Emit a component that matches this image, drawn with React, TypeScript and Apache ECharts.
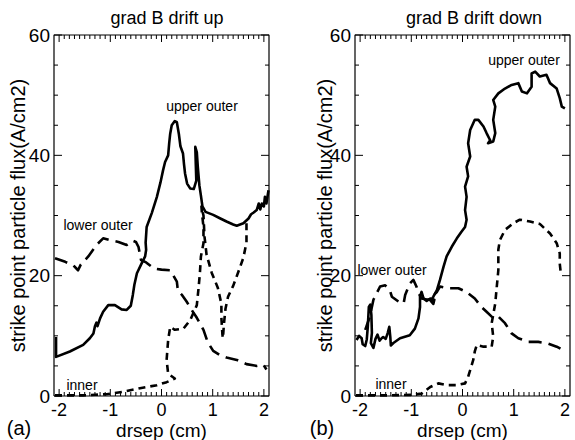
import React, { useEffect, useRef } from "react";
import * as echarts from "echarts";

const FONT = "'Liberation Sans', Arial, Helvetica, sans-serif";

const TITLES = ["grad B drift up", "grad B drift down"];
const PANEL_TAGS = ["(a)", "(b)"];
const X_NAME = "drsep (cm)";
const Y_NAME = "strike point particle flux(A/cm2)";
const X_TICKS = [-2, -1, 0, 1, 2];
const Y_TICKS = [0, 20, 40, 60];
const SERIES_NAMES = ["upper outer", "lower outer", "inner"];

// grad B drift up
const UP_UPPER = [
  [-2.06, 9.8], [-2.06, 6.5], [-1.79, 7.4], [-1.53, 8.5], [-1.4, 9.6], [-1.33, 10.4], [-1.3, 11.6],
  [-1.27, 12.2], [-1.25, 11.6], [-1.2, 12.9], [-1.14, 14.0], [-1.04, 15.1], [-0.91, 15.1], [-0.78, 14.4],
  [-0.68, 14.3], [-0.6, 15.0], [-0.56, 16.8], [-0.53, 18.5], [-0.48, 20.4], [-0.39, 22.0], [-0.32, 23.2],
  [-0.3, 24.3], [-0.31, 25.5], [-0.29, 28.1], [-0.19, 30.4], [-0.09, 33.1], [-0.02, 35.5], [0.03, 37.5],
  [0.07, 38.9], [0.13, 40.0], [0.15, 42.0], [0.17, 43.6], [0.2, 45.0], [0.26, 45.7], [0.3, 45.5],
  [0.34, 43.5], [0.37, 41.5], [0.42, 40.3], [0.44, 38.5], [0.46, 37.0], [0.5, 35.3], [0.56, 34.5],
  [0.63, 34.4], [0.68, 35.8], [0.67, 38.5], [0.66, 41.4], [0.69, 40.5], [0.71, 38.0], [0.74, 35.0],
  [0.77, 33.3], [0.8, 31.5], [0.86, 30.6], [1.01, 30.1], [1.15, 29.5], [1.27, 29.0], [1.4, 28.5],
  [1.47, 28.3], [1.6, 28.7], [1.7, 29.5], [1.75, 30.2], [1.8, 30.5], [1.86, 30.9], [1.9, 32.0],
  [1.93, 31.0], [1.96, 32.0], [2.0, 31.5], [2.02, 33.1], [2.05, 32.0], [2.09, 34.2],
];
const UP_LOWER = [
  [-2.08, 22.9], [-1.88, 22.3], [-1.72, 21.7], [-1.63, 20.9], [-1.58, 21.8], [-1.43, 23.2], [-1.27, 25.1],
  [-1.14, 26.2], [-1.01, 25.9], [-0.84, 25.6], [-0.68, 25.1], [-0.56, 25.8], [-0.5, 25.6], [-0.45, 24.8],
  [-0.4, 22.6], [-0.3, 22.2], [-0.15, 21.2], [0.0, 21.0], [0.17, 20.9], [0.3, 19.0], [0.32, 17.5],
  [0.4, 16.8], [0.49, 15.7], [0.59, 14.3], [0.69, 13.0], [0.82, 11.0], [0.9, 9.0], [1.01, 7.5],
  [1.14, 6.8], [1.27, 6.4], [1.47, 6.0], [1.66, 5.3], [1.86, 5.0], [1.99, 5.2], [2.05, 4.4],
];
const UP_INNER = [
  [-2.08, 0.1], [-1.8, 0.1], [-1.53, 0.1], [-1.3, 0.2], [-1.07, 0.3], [-0.75, 0.7], [-0.42, 1.3],
  [-0.09, 1.8], [0.1, 2.3], [0.26, 2.9], [0.13, 3.7], [0.1, 6.0], [0.13, 9.3], [0.17, 11.5], [0.26, 11.0],
  [0.43, 11.2], [0.56, 12.6], [0.69, 15.1], [0.72, 17.6], [0.75, 20.4], [0.77, 23.2], [0.82, 25.4],
  [0.82, 28.1], [0.79, 30.4], [0.78, 31.5], [0.82, 30.0], [0.84, 26.5], [0.88, 23.5], [0.98, 20.5],
  [1.1, 18.0], [1.17, 15.3], [1.17, 13.0], [1.19, 10.2], [1.2, 9.6], [1.22, 12.0], [1.25, 14.5],
  [1.3, 16.5], [1.4, 18.3], [1.5, 20.6], [1.6, 23.0], [1.66, 25.5], [1.66, 28.1], [1.66, 29.3],
];

// grad B drift down
const DOWN_UPPER = [
  [-2.07, 9.3], [-2.02, 10.0], [-1.97, 9.6], [-1.95, 8.6], [-1.9, 8.3], [-1.87, 9.4], [-1.85, 11.5],
  [-1.83, 14.8], [-1.8, 15.2], [-1.78, 13.5], [-1.77, 10.5], [-1.79, 8.8], [-1.74, 8.0], [-1.7, 9.5],
  [-1.66, 10.2], [-1.62, 9.2], [-1.58, 9.6], [-1.55, 9.8], [-1.5, 9.5], [-1.46, 10.5], [-1.43, 11.5],
  [-1.41, 9.8], [-1.4, 8.4], [-1.35, 8.8], [-1.22, 9.6], [-1.03, 10.1], [-0.93, 11.2], [-0.86, 12.9],
  [-0.83, 14.8], [-0.83, 16.5], [-0.8, 17.3], [-0.76, 16.2], [-0.7, 15.8], [-0.63, 16.2], [-0.55, 16.0],
  [-0.57, 15.3], [-0.62, 15.8], [-0.57, 16.5], [-0.5, 17.6], [-0.44, 19.3], [-0.37, 21.5], [-0.31, 23.2],
  [-0.21, 24.8], [-0.11, 26.2], [-0.02, 27.3], [0.05, 28.1], [0.08, 29.3], [0.05, 30.9], [0.08, 33.1],
  [0.05, 34.8], [0.11, 36.5], [0.08, 38.1], [0.15, 39.8], [0.11, 42.0], [0.15, 44.2], [0.24, 45.9],
  [0.31, 45.9], [0.41, 44.8], [0.47, 43.7], [0.54, 42.5], [0.5, 42.0], [0.6, 42.3], [0.64, 43.7],
  [0.6, 45.9], [0.64, 48.1], [0.6, 49.2], [0.7, 50.3], [0.83, 51.1], [0.96, 51.7], [1.09, 52.0],
  [1.16, 50.6], [1.26, 50.3], [1.35, 51.4], [1.35, 53.6], [1.42, 53.9], [1.51, 53.1], [1.64, 53.4],
  [1.71, 52.0], [1.84, 51.1], [1.9, 49.5], [1.94, 48.1], [2.0, 47.8],
];
const DOWN_LOWER = [
  [-1.9, 11.0], [-1.81, 13.2], [-1.74, 16.0], [-1.61, 18.2], [-1.51, 18.4], [-1.42, 17.6], [-1.38, 16.5],
  [-1.25, 15.7], [-1.15, 15.4], [-1.12, 16.8], [-1.03, 18.7], [-0.96, 19.3], [-0.9, 18.2], [-0.86, 17.1],
  [-0.8, 16.2], [-0.67, 16.0], [-0.5, 17.3], [-0.44, 18.2], [-0.28, 17.9], [-0.08, 17.9], [0.08, 17.3],
  [0.24, 16.2], [0.37, 14.8], [0.47, 14.0], [0.57, 13.2], [0.7, 13.2], [0.83, 12.1], [0.96, 10.4],
  [1.09, 9.6], [1.29, 9.0], [1.48, 9.0], [1.68, 8.7], [1.84, 8.2], [1.97, 7.6],
];
const DOWN_INNER = [
  [-2.08, 0.1], [-1.5, 0.1], [-0.96, 0.2], [-0.8, 0.4], [-0.63, 1.5], [-0.47, 2.1], [-0.31, 1.8],
  [-0.11, 1.8], [0.05, 2.1], [0.11, 3.2], [0.15, 4.3], [0.21, 6.0], [0.24, 7.4], [0.28, 8.5], [0.41, 8.2],
  [0.57, 8.2], [0.6, 9.9], [0.57, 12.1], [0.6, 13.5], [0.64, 15.4], [0.67, 18.2], [0.7, 20.9],
  [0.7, 24.3], [0.73, 25.9], [0.83, 27.6], [0.99, 28.7], [1.12, 29.3], [1.32, 29.0], [1.51, 28.6],
  [1.71, 27.0], [1.84, 25.4], [1.9, 23.7], [1.9, 22.0], [1.92, 20.4],
];

const PANELS = [
  [UP_UPPER, UP_LOWER, UP_INNER],
  [DOWN_UPPER, DOWN_LOWER, DOWN_INNER],
];

const X_MIN = -2.1;
const X_MAX = 2.1;
const Y_MIN = Y_TICKS[0];
const Y_MAX = Y_TICKS[Y_TICKS.length - 1];

// tick marks: [value, tick length in px]
const X_TICK_MARKS: number[][] = [];
for (let i = -20; i <= 20; i++) X_TICK_MARKS.push([i / 10, 0, i % 10 === 0 ? 7 : 4]);
const Y_TICK_MARKS: number[][] = [];
for (let v = Y_MIN; v <= Y_MAX; v += 5) Y_TICK_MARKS.push([0, v, v % 20 === 0 ? 8 : 4]);
const FRAME = [[X_MIN, Y_MIN], [X_MAX, Y_MIN], [X_MAX, Y_MAX], [X_MIN, Y_MAX], [X_MIN, Y_MIN]];

const GRIDS = [
  { left: 54, top: 35, width: 215, height: 361 },
  { left: 355, top: 35, width: 215, height: 361 },
];
const Y_NAME_GAP = [26, 20];
const TITLE_X = [167, 474];
const LINE_TYPES: any[] = ["solid", [13, 7], [7, 5]];

const ANNOT = [
  { text: "upper outer", x: 202, y: 106 },
  { text: "lower outer", x: 98, y: 225 },
  { text: "inner", x: 82, y: 385 },
  { text: "upper outer", x: 524, y: 60 },
  { text: "lower outer", x: 392, y: 270 },
  { text: "inner", x: 391, y: 384 },
];

export default function App() {
  const ref = useRef<HTMLDivElement>(null);
  useEffect(() => {
    document.body.style.margin = "0";
    if (!ref.current) return;
    const chart = echarts.init(ref.current, null, { renderer: "svg" });
    const black = "#000000";
    const xAxes: any[] = [];
    const yAxes: any[] = [];
    const series: any[] = [];
    GRIDS.forEach((_, g) => {
      xAxes.push({
        gridIndex: g,
        type: "value",
        min: X_MIN,
        max: X_MAX,
        position: "bottom",
        splitLine: { show: false },
        axisLine: { show: false, onZero: false },
        axisTick: { show: false },
        axisLabel: {
          show: true,
          customValues: X_TICKS,
          color: black,
          fontSize: 18,
          fontFamily: FONT,
          margin: 5,
          formatter: (v: number) => String(v),
        },
        name: X_NAME,
        nameLocation: "middle",
        nameGap: 25,
        nameMoveOverlap: false,
        nameTextStyle: { color: black, fontSize: 19, fontFamily: FONT },
      });
      yAxes.push({
        gridIndex: g,
        type: "value",
        min: Y_MIN,
        max: Y_MAX,
        interval: 20,
        position: "left",
        splitLine: { show: false },
        axisLine: { show: false, onZero: false },
        axisTick: { show: false },
        axisLabel: { show: true, color: black, fontSize: 19, fontFamily: FONT, margin: 4 },
        name: Y_NAME,
        nameLocation: "middle",
        nameRotate: 90,
        nameGap: Y_NAME_GAP[g],
        nameMoveOverlap: false,
        nameTextStyle: { color: black, fontSize: 20, fontFamily: FONT },
      });
      // frame
      series.push({
        type: "line",
        xAxisIndex: g,
        yAxisIndex: g,
        data: FRAME,
        showSymbol: false,
        symbol: "none",
        clip: false,
        silent: true,
        lineStyle: { color: black, width: 1.2 },
        z: 5,
      });
      // x ticks (bottom and top, inward)
      series.push({
        type: "custom",
        xAxisIndex: g,
        yAxisIndex: g,
        data: X_TICK_MARKS,
        encode: { x: 0, y: 1 },
        clip: false,
        silent: true,
        z: 5,
        renderItem: (params: any, api: any) => {
          const v = api.value(0);
          const len = api.value(2);
          const b = api.coord([v, Y_MIN]);
          const t = api.coord([v, Y_MAX]);
          return {
            type: "group",
            children: [
              { type: "line", shape: { x1: b[0], y1: b[1], x2: b[0], y2: b[1] - len }, style: { stroke: black, lineWidth: 1 } },
              { type: "line", shape: { x1: t[0], y1: t[1], x2: t[0], y2: t[1] + len }, style: { stroke: black, lineWidth: 1 } },
            ],
          };
        },
      });
      // y ticks (left and right, inward)
      series.push({
        type: "custom",
        xAxisIndex: g,
        yAxisIndex: g,
        data: Y_TICK_MARKS,
        encode: { x: 0, y: 1 },
        clip: false,
        silent: true,
        z: 5,
        renderItem: (params: any, api: any) => {
          const v = api.value(1);
          const len = api.value(2);
          const l = api.coord([X_MIN, v]);
          const r = api.coord([X_MAX, v]);
          return {
            type: "group",
            children: [
              { type: "line", shape: { x1: l[0], y1: l[1], x2: l[0] + len, y2: l[1] }, style: { stroke: black, lineWidth: 1 } },
              { type: "line", shape: { x1: r[0], y1: r[1], x2: r[0] - len, y2: r[1] }, style: { stroke: black, lineWidth: 1 } },
            ],
          };
        },
      });
      PANELS[g].forEach((data, k) => {
        series.push({
          name: SERIES_NAMES[k],
          type: "line",
          xAxisIndex: g,
          yAxisIndex: g,
          data,
          showSymbol: false,
          symbol: "none",
          smooth: false,
          lineStyle: { color: black, width: 2.6, type: LINE_TYPES[k], cap: "butt", join: "round" },
          z: 3 - k,
        });
      });
    });

    const graphics: any[] = ANNOT.map((a) => ({
      type: "text",
      x: a.x,
      y: a.y,
      style: {
        text: a.text,
        fontSize: 14,
        fontFamily: FONT,
        fill: black,
        align: "center",
        verticalAlign: "middle",
      },
    }));
    PANEL_TAGS.forEach((t, i) => {
      graphics.push({
        type: "text",
        x: i === 0 ? 19 : 322,
        y: 428,
        style: { text: t, fontSize: 20, fontFamily: FONT, fill: black, align: "center", verticalAlign: "middle" },
      });
    });

    chart.setOption({
      animation: false,
      title: TITLES.map((t, i) => ({
        text: t,
        left: TITLE_X[i],
        top: 9,
        padding: 0,
        textAlign: "center",
        textStyle: { color: black, fontSize: 18, fontWeight: "normal", fontFamily: FONT },
      })),
      grid: GRIDS.map((g) => ({
        ...g,
        containLabel: false,
        outerBoundsMode: "none",
        show: false,
      })),
      xAxis: xAxes,
      yAxis: yAxes,
      series,
      graphic: graphics,
    });
    return () => chart.dispose();
  }, []);
  return <div ref={ref} style={{ width: 575, height: 440, background: "#fff" }} />;
}
